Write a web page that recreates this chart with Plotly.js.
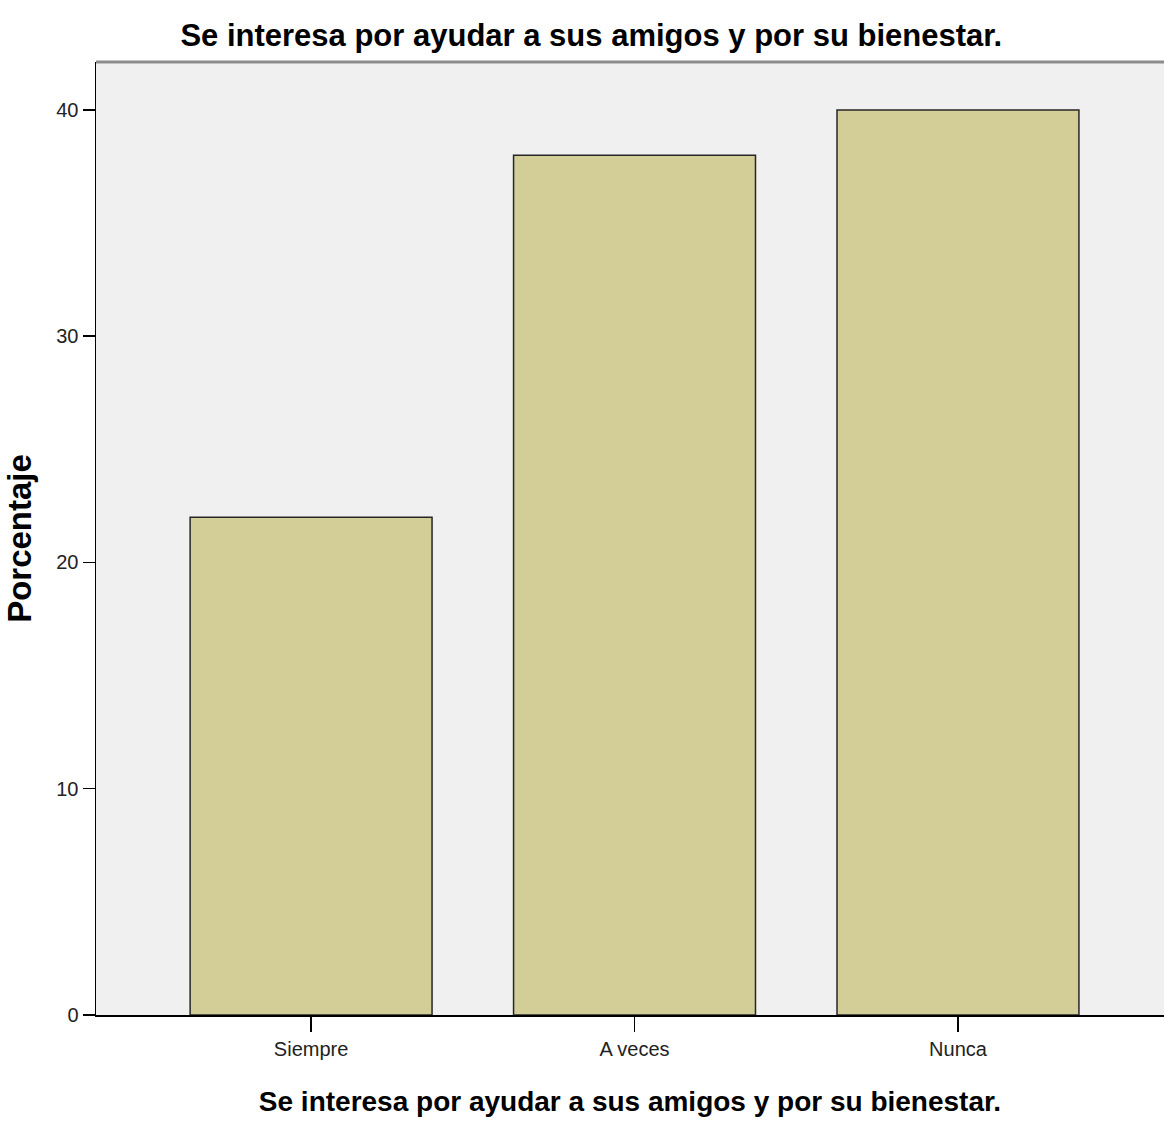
<!DOCTYPE html>
<html>
<head>
<meta charset="utf-8">
<script src="https://cdn.plot.ly/plotly-3.0.1.min.js"></script>
<style>html,body{margin:0;padding:0;background:#fff;}</style>
</head>
<body>
<div id="chart" style="width:1164px;height:1121px;"></div>
<script>
const categories = ["Siempre", "A veces", "Nunca"];
const percentages = [22, 38, 40];
const yTickValues = [0, 10, 20, 30, 40];
const chartTitle = "Se interesa por ayudar a sus amigos y por su bienestar.";
const xTitle = "Se interesa por ayudar a sus amigos y por su bienestar.";
const yTitle = "Porcentaje";

const fontFam = "'Liberation Sans', Arial, sans-serif";

const trace = {
  type: "bar",
  x: categories,
  y: percentages,
  width: 0.748,
  marker: {color: "#d3ce97", line: {color: "#262626", width: 1.5}},
  hoverinfo: "x+y"
};

const layout = {
  width: 1164,
  height: 1121,
  margin: {l: 96, r: 0, t: 62, b: 106, pad: 0},
  paper_bgcolor: "#ffffff",
  plot_bgcolor: "#f0f0f0",
  showlegend: false,
  title: {
    text: chartTitle,
    font: {family: fontFam, size: 31, color: "#000", weight: "bold"},
    x: 0.508, xanchor: "center", xref: "container",
    y: 0.969, yanchor: "middle", yref: "container"
  },
  xaxis: {
    type: "category",
    range: [-0.665, 2.637],
    showgrid: false,
    zeroline: false,
    showline: true,
    linecolor: "#000",
    linewidth: 1.5,
    ticks: "outside",
    ticklen: 15,
    tickwidth: 1.5,
    tickcolor: "#000",
    tickfont: {family: fontFam, size: 20, color: "#222"},
    title: {text: xTitle, font: {family: fontFam, size: 28, color: "#000", weight: "bold"}, standoff: 33},
    fixedrange: true
  },
  yaxis: {
    range: [0, 42.12],
    tickvals: yTickValues,
    showgrid: false,
    zeroline: false,
    showline: true,
    linecolor: "#000",
    linewidth: 1.5,
    ticks: "outside",
    ticklen: 12,
    tickwidth: 1.5,
    tickcolor: "#000",
    tickfont: {family: fontFam, size: 20, color: "#222"},
    title: {text: yTitle, font: {family: fontFam, size: 33, color: "#000", weight: "bold"}, standoff: 14},
    fixedrange: true
  },
  shapes: [{
    type: "line", xref: "paper", yref: "paper",
    x0: 0, x1: 1, y0: 1, y1: 1,
    line: {color: "#8c8c8c", width: 3}
  }],
  bargap: 0.25
};

Plotly.newPlot("chart", [trace], layout, {displayModeBar: false, staticPlot: true});
</script>
</body>
</html>
